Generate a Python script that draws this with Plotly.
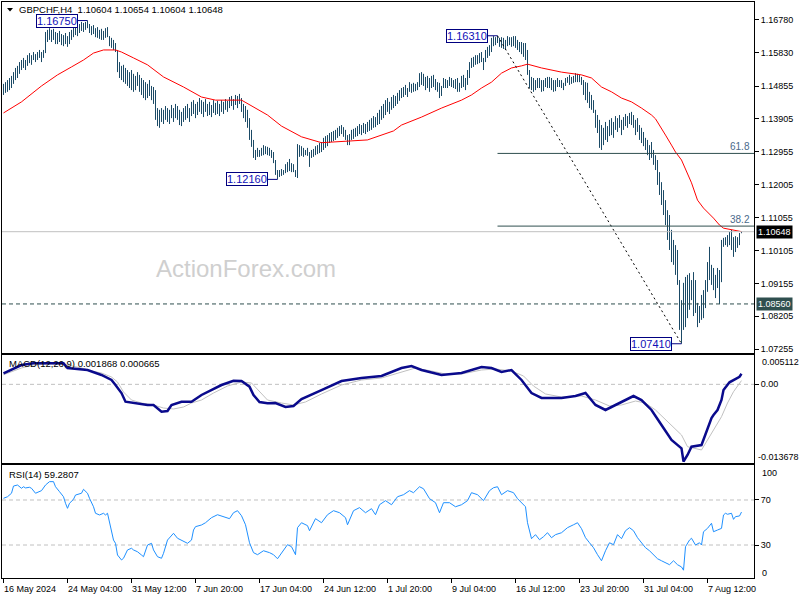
import plotly.graph_objects as go

# ---------------- data ----------------
date_labels = ["16 May 2024", "24 May 04:00", "31 May 12:00", "7 Jun 20:00", "17 Jun 04:00",
               "24 Jun 12:00", "1 Jul 20:00", "9 Jul 04:00", "16 Jul 12:00", "23 Jul 20:00",
               "31 Jul 04:00", "7 Aug 12:00"]
date_idx = [0, 32, 64, 96, 128, 160, 192, 224, 256, 288, 320, 352]

highs = [
    1.1492, 1.1497, 1.1503, 1.1509, 1.1515, 1.1526, 1.1538, 1.1544, 1.1555, 1.1561,
    1.1567, 1.1561, 1.1575, 1.1581, 1.1575, 1.1584, 1.1578, 1.1584, 1.1590, 1.1584,
    1.1590, 1.1642, 1.1648, 1.1653, 1.1648, 1.1651, 1.1642, 1.1639, 1.1645, 1.1636,
    1.1633, 1.1639, 1.1630, 1.1642, 1.1648, 1.1656, 1.1662, 1.1656, 1.1665, 1.1671,
    1.1668, 1.1671, 1.1675, 1.1665, 1.1659, 1.1662, 1.1653, 1.1656, 1.1648, 1.1651,
    1.1645, 1.1653, 1.1656, 1.1630, 1.1625, 1.1619, 1.1610, 1.1590, 1.1555, 1.1544,
    1.1547, 1.1538, 1.1532, 1.1526, 1.1532, 1.1521, 1.1515, 1.1526, 1.1518, 1.1509,
    1.1503, 1.1497, 1.1492, 1.1503, 1.1486, 1.1483, 1.1474, 1.1422, 1.1417, 1.1422,
    1.1417, 1.1428, 1.1422, 1.1417, 1.1431, 1.1422, 1.1434, 1.1428, 1.1417, 1.1411,
    1.1422, 1.1428, 1.1434, 1.1422, 1.1440, 1.1445, 1.1434, 1.1440, 1.1451, 1.1445,
    1.1440, 1.1448, 1.1434, 1.1440, 1.1431, 1.1445, 1.1437, 1.1443, 1.1434, 1.1445,
    1.1440, 1.1448, 1.1443, 1.1454, 1.1457, 1.1448, 1.1460, 1.1457, 1.1463, 1.1451,
    1.1434, 1.1428, 1.1417, 1.1393, 1.1359, 1.1330, 1.1301, 1.1307, 1.1301, 1.1307,
    1.1315, 1.1312, 1.1310, 1.1307, 1.1301, 1.1295, 1.1272, 1.1243, 1.1243, 1.1246,
    1.1243, 1.1260, 1.1266, 1.1275, 1.1263, 1.1260, 1.1243, 1.1318, 1.1315, 1.1312,
    1.1307, 1.1301, 1.1307, 1.1295, 1.1301, 1.1304, 1.1312, 1.1315, 1.1321, 1.1324,
    1.1336, 1.1341, 1.1344, 1.1350, 1.1353, 1.1356, 1.1359, 1.1365, 1.1370, 1.1373,
    1.1367, 1.1359, 1.1344, 1.1347, 1.1359, 1.1362, 1.1365, 1.1370, 1.1376, 1.1373,
    1.1379, 1.1376, 1.1382, 1.1388, 1.1393, 1.1399, 1.1396, 1.1408, 1.1417, 1.1428,
    1.1434, 1.1445, 1.1451, 1.1440, 1.1454, 1.1460, 1.1457, 1.1466, 1.1474, 1.1480,
    1.1483, 1.1489, 1.1480, 1.1497, 1.1492, 1.1495, 1.1492, 1.1497, 1.1523, 1.1526,
    1.1521, 1.1512, 1.1515, 1.1509, 1.1515, 1.1518, 1.1506, 1.1497, 1.1495, 1.1486,
    1.1509, 1.1506, 1.1503, 1.1512, 1.1509, 1.1503, 1.1506, 1.1509, 1.1495, 1.1515,
    1.1518, 1.1509, 1.1532, 1.1555, 1.1567, 1.1570, 1.1575, 1.1575, 1.1581, 1.1584,
    1.1567, 1.1590, 1.1599, 1.1604, 1.1625, 1.1630, 1.1627, 1.1631, 1.1625, 1.1627,
    1.1625, 1.1619, 1.1630, 1.1627, 1.1627, 1.1630, 1.1630, 1.1619, 1.1613, 1.1613,
    1.1610, 1.1610, 1.1590, 1.1532, 1.1512, 1.1509, 1.1503, 1.1509, 1.1509, 1.1503,
    1.1503, 1.1509, 1.1512, 1.1512, 1.1509, 1.1503, 1.1503, 1.1509, 1.1503, 1.1503,
    1.1495, 1.1509, 1.1512, 1.1518, 1.1512, 1.1515, 1.1523, 1.1521, 1.1518, 1.1512,
    1.1503, 1.1497, 1.1495, 1.1469, 1.1460, 1.1445, 1.1417, 1.1402, 1.1388, 1.1373,
    1.1365, 1.1382, 1.1370, 1.1388, 1.1393, 1.1382, 1.1399, 1.1393, 1.1402, 1.1388,
    1.1396, 1.1405, 1.1399, 1.1408, 1.1411, 1.1402, 1.1388, 1.1393, 1.1373, 1.1365,
    1.1353, 1.1336, 1.1330, 1.1315, 1.1324, 1.1301, 1.1286, 1.1272, 1.1237, 1.1208,
    1.1185, 1.1156, 1.1127, 1.1113, 1.1070, 1.1041, 1.1026, 1.1012, 1.0925, 1.0867,
    1.0917, 1.0934, 1.0940, 1.0945, 1.0925, 1.0948, 1.0925, 1.0859, 1.0850, 1.0882,
    1.0896, 1.0925, 1.0977, 1.1021, 1.0969, 1.0960, 1.0940, 1.0960, 1.0954, 1.1041,
    1.1047, 1.1049, 1.1055, 1.1064, 1.1070, 1.1049, 1.1052, 1.1049, 1.1061, 1.10654,
]

lows = [
    1.1460, 1.1466, 1.1469, 1.1474, 1.1480, 1.1492, 1.1503, 1.1509, 1.1521, 1.1532,
    1.1538, 1.1532, 1.1544, 1.1552, 1.1547, 1.1561, 1.1555, 1.1561, 1.1567, 1.1555,
    1.1567, 1.1581, 1.1613, 1.1619, 1.1613, 1.1619, 1.1607, 1.1607, 1.1613, 1.1604,
    1.1601, 1.1607, 1.1599, 1.1607, 1.1619, 1.1627, 1.1633, 1.1630, 1.1639, 1.1645,
    1.1642, 1.1648, 1.1653, 1.1639, 1.1633, 1.1636, 1.1627, 1.1625, 1.1622, 1.1619,
    1.1619, 1.1625, 1.1627, 1.1601, 1.1596, 1.1590, 1.1584, 1.1526, 1.1509, 1.1503,
    1.1497, 1.1492, 1.1486, 1.1480, 1.1474, 1.1469, 1.1474, 1.1486, 1.1469, 1.1460,
    1.1451, 1.1445, 1.1451, 1.1457, 1.1445, 1.1434, 1.1388, 1.1370, 1.1365, 1.1382,
    1.1376, 1.1388, 1.1382, 1.1376, 1.1393, 1.1382, 1.1393, 1.1388, 1.1373, 1.1370,
    1.1382, 1.1388, 1.1393, 1.1382, 1.1399, 1.1405, 1.1393, 1.1402, 1.1411, 1.1405,
    1.1396, 1.1411, 1.1399, 1.1402, 1.1396, 1.1408, 1.1402, 1.1405, 1.1399, 1.1411,
    1.1405, 1.1417, 1.1411, 1.1422, 1.1428, 1.1417, 1.1431, 1.1422, 1.1434, 1.1411,
    1.1393, 1.1382, 1.1365, 1.1330, 1.1310, 1.1278, 1.1272, 1.1281, 1.1281, 1.1284,
    1.1286, 1.1289, 1.1286, 1.1284, 1.1278, 1.1263, 1.1229, 1.1216, 1.1223, 1.1226,
    1.1229, 1.1234, 1.1237, 1.1240, 1.1237, 1.1237, 1.1223, 1.1220, 1.1281, 1.1284,
    1.1281, 1.1286, 1.1284, 1.1252, 1.1278, 1.1281, 1.1286, 1.1289, 1.1292, 1.1295,
    1.1301, 1.1307, 1.1312, 1.1321, 1.1324, 1.1327, 1.1330, 1.1336, 1.1341, 1.1347,
    1.1339, 1.1330, 1.1315, 1.1315, 1.1330, 1.1333, 1.1339, 1.1341, 1.1347, 1.1344,
    1.1350, 1.1347, 1.1353, 1.1356, 1.1359, 1.1365, 1.1367, 1.1373, 1.1376, 1.1388,
    1.1393, 1.1402, 1.1411, 1.1405, 1.1417, 1.1422, 1.1428, 1.1434, 1.1443, 1.1451,
    1.1454, 1.1460, 1.1454, 1.1469, 1.1466, 1.1469, 1.1471, 1.1474, 1.1483, 1.1489,
    1.1486, 1.1474, 1.1480, 1.1469, 1.1480, 1.1483, 1.1474, 1.1469, 1.1451, 1.1457,
    1.1480, 1.1480, 1.1480, 1.1486, 1.1483, 1.1480, 1.1477, 1.1469, 1.1469, 1.1480,
    1.1483, 1.1474, 1.1489, 1.1509, 1.1538, 1.1541, 1.1547, 1.1549, 1.1552, 1.1555,
    1.1532, 1.1555, 1.1567, 1.1573, 1.1584, 1.1601, 1.1604, 1.1610, 1.1599, 1.1596,
    1.1593, 1.1590, 1.1601, 1.1604, 1.1599, 1.1601, 1.1596, 1.1590, 1.1584, 1.1578,
    1.1570, 1.1561, 1.1518, 1.1480, 1.1474, 1.1469, 1.1474, 1.1480, 1.1480, 1.1469,
    1.1471, 1.1483, 1.1480, 1.1480, 1.1474, 1.1469, 1.1471, 1.1483, 1.1483, 1.1480,
    1.1474, 1.1486, 1.1495, 1.1489, 1.1492, 1.1495, 1.1497, 1.1497, 1.1497, 1.1489,
    1.1460, 1.1445, 1.1437, 1.1422, 1.1417, 1.1408, 1.1365, 1.1350, 1.1307, 1.1301,
    1.1315, 1.1330, 1.1324, 1.1341, 1.1344, 1.1336, 1.1359, 1.1353, 1.1365, 1.1344,
    1.1359, 1.1370, 1.1365, 1.1376, 1.1373, 1.1365, 1.1344, 1.1353, 1.1330, 1.1321,
    1.1312, 1.1301, 1.1286, 1.1272, 1.1278, 1.1258, 1.1243, 1.1200, 1.1171, 1.1142,
    1.1113, 1.1084, 1.1041, 1.1012, 1.0977, 1.0969, 1.0940, 1.0911, 1.0781, 1.0741,
    1.0781, 1.0789, 1.0815, 1.0839, 1.0867, 1.0821, 1.0830, 1.0789, 1.0801, 1.0810,
    1.0815, 1.0844, 1.0891, 1.0925, 1.0911, 1.0896, 1.0873, 1.0902, 1.0856, 1.0919,
    1.1021, 1.1026, 1.1021, 1.1026, 1.1012, 1.0992, 1.1006, 1.1018, 1.1026, 1.10604,
]

ma_idx = [0, 9, 19, 27, 34, 40, 45, 50, 56, 59, 65, 72, 80, 90, 99, 106, 119, 125, 132, 139,
          149, 159, 174, 182, 195, 199, 209, 219, 229, 234, 239, 244, 249, 254, 259, 262, 269,
          279, 289, 294, 299, 304, 309, 314, 319, 324, 326, 329, 331, 334, 336, 339, 341, 344,
          347, 350, 355, 358, 360, 364, 369]
ma_val = [1.1408, 1.1440, 1.1486, 1.1518, 1.1541, 1.1561, 1.1581, 1.1590, 1.1590, 1.1584,
          1.1567, 1.1547, 1.1512, 1.1483, 1.1454, 1.1445, 1.1445, 1.1425, 1.1402, 1.1370,
          1.1339, 1.1322, 1.1327, 1.1330, 1.1356, 1.1373, 1.1396, 1.1422, 1.1445, 1.1460,
          1.1480, 1.1497, 1.1523, 1.1538, 1.1544, 1.1549, 1.1538, 1.1526, 1.1518, 1.1509,
          1.1483, 1.1469, 1.1451, 1.1440, 1.1422, 1.1402, 1.1391, 1.1365, 1.1344, 1.1315,
          1.1295, 1.1272, 1.1246, 1.1206, 1.1156, 1.1133, 1.1104, 1.1084, 1.1075, 1.1070,
          1.1065]

macd_idx = [0, 5, 9, 15, 20, 30, 32, 42, 49, 54, 56, 59, 61, 72, 75, 77, 79, 82, 84, 89,
            94, 99, 104, 109, 115, 119, 123, 125, 128, 132, 136, 141, 145, 149, 159, 169, 179, 189, 199, 204,
            209, 219, 229, 239, 244, 249, 254, 259, 264, 269, 279, 286, 291, 296, 301, 306, 311, 315, 319, 324,
            329, 334, 339, 340, 342, 344, 349, 350, 352, 354, 355, 357, 359, 360, 363, 365, 368, 369]
macd_val = [0.00196, 0.00284, 0.00343, 0.00373, 0.00373, 0.00373, 0.00290, 0.00254, 0.00166, 0.00077,
            -0.00012, -0.00154, -0.00308, -0.00366, -0.00366, -0.00420, -0.00485, -0.00473, -0.00366, -0.00308,
            -0.00308, -0.00189, -0.00101, -0.00012, 0.00064, 0.00059, -0.00042, -0.00189, -0.00313, -0.00336,
            -0.00331, -0.00402, -0.00384, -0.00260, -0.00101, 0.00059, 0.00112, 0.00148, 0.00290, 0.00325,
            0.00254, 0.00166, 0.00201, 0.00307, 0.00290, 0.00219, 0.00254, 0.00077, -0.00154, -0.00242,
            -0.00242, -0.00207, -0.00154, -0.00366, -0.00455, -0.00366, -0.00278, -0.00207, -0.00278, -0.00455,
            -0.00721, -0.00987, -0.01134, -0.01368, -0.01253, -0.01106, -0.01076, -0.00987, -0.00810, -0.00597,
            -0.00544, -0.00455, -0.00278, -0.00101, 0.00036, 0.00077, 0.00135, 0.001868]

sig_idx = [0, 2, 9, 15, 24, 32, 39, 44, 49, 54, 57, 60, 64, 69, 75, 80, 85, 90, 94, 99,
           105, 112, 119, 124, 128, 132, 139, 145, 151, 159, 169, 179, 189, 199, 206, 214, 221, 229, 239, 246,
           254, 260, 265, 271, 279, 289, 296, 303, 309, 316, 321, 326, 331, 336, 339, 342, 345, 349, 352, 355,
           359, 362, 365, 369]
sig_val = [0.00170, 0.00196, 0.00290, 0.00343, 0.00361, 0.00343, 0.00290, 0.00236, 0.00201, 0.00130,
           0.00041, -0.00136, -0.00278, -0.00331, -0.00366, -0.00420, -0.00437, -0.00402, -0.00331, -0.00278,
           -0.00154, -0.00030, 0.00041, 0.00024, -0.00136, -0.00278, -0.00331, -0.00366, -0.00313, -0.00171,
           -0.00012, 0.00077, 0.00112, 0.00219, 0.00290, 0.00236, 0.00183, 0.00183, 0.00254, 0.00272,
           0.00236, 0.00148, -0.00030, -0.00171, -0.00225, -0.00207, -0.00278, -0.00384, -0.00366, -0.00296,
           -0.00331, -0.00455, -0.00632, -0.00810, -0.00898, -0.01106, -0.01129, -0.01164, -0.00987, -0.00810,
           -0.00574, -0.00331, -0.00131, 0.000665]

rsi_idx = [0, 2, 4, 5, 7, 9, 10, 11, 13, 14, 16, 18, 19, 21, 23, 25, 26, 28, 30, 31,
           32, 33, 35, 36, 39, 40, 42, 43, 45, 46, 48, 50, 51, 52, 53, 55, 56, 57, 59, 60,
           62, 64, 65, 67, 69, 70, 72, 74, 75, 77, 79, 80, 82, 84, 85, 87, 89, 90, 92, 94,
           95, 96, 99, 101, 104, 107, 110, 113, 115, 117, 119, 121, 123, 125, 127, 130, 133, 135, 137, 139,
           142, 144, 146, 147, 149, 152, 153, 156, 159, 162, 165, 168, 171, 172, 175, 178, 181, 184, 186, 188,
           191, 194, 197, 200, 203, 205, 208, 210, 213, 216, 218, 220, 223, 226, 229, 232, 234, 237, 240, 243,
           245, 247, 249, 252, 255, 257, 259, 261, 262, 264, 266, 268, 270, 272, 274, 276, 279, 282, 285, 287,
           289, 291, 293, 295, 297, 299, 301, 303, 305, 307, 309, 311, 313, 315, 317, 319, 321, 323, 325, 327,
           329, 331, 333, 335, 337, 339, 340, 341, 343, 344, 346, 348, 349, 350, 352, 354, 355, 357, 359, 360,
           361, 362, 364, 365, 366, 368, 369]
rsi_val = [71.5, 72.9, 76.0, 82.4, 83.3, 80.4, 81.8, 80.7, 81.3, 80.4, 76.0, 77.4, 78.3, 83.3, 86.3, 86.3, 81.8, 77.4, 72.9, 67.1,
           62.6, 67.1, 70.6, 74.4, 76.0, 79.5, 76.0, 71.5, 64.0, 58.2, 56.7, 58.2, 56.7, 58.2, 49.3, 34.4, 31.5, 21.1, 16.7, 18.2,
           25.6, 27.1, 25.6, 24.0, 21.1, 19.6, 30.0, 31.5, 25.6, 19.6, 18.2, 22.6, 34.4, 38.9, 40.4, 36.0, 34.4, 32.9, 31.5, 34.4,
           43.3, 46.3, 47.8, 49.8, 54.3, 56.9, 55.2, 53.4, 58.7, 60.5, 56.0, 48.0, 32.0, 23.2, 21.4, 24.9, 23.2, 21.4, 17.8, 23.2,
           30.3, 28.5, 21.4, 45.4, 49.8, 47.2, 42.7, 53.4, 49.8, 56.9, 60.5, 58.7, 54.3, 48.0, 60.5, 63.2, 58.7, 62.3, 56.9, 65.8,
           69.4, 65.8, 72.9, 74.7, 78.3, 76.5, 81.8, 80.0, 71.2, 67.6, 58.7, 67.6, 67.6, 64.0, 65.8, 69.4, 76.5, 74.7, 69.4, 78.3,
           80.9, 81.8, 74.7, 78.3, 76.5, 71.2, 67.6, 64.0, 49.8, 35.6, 39.2, 34.7, 37.4, 40.9, 36.5, 39.2, 40.9, 45.4, 48.0, 49.8,
           44.5, 36.5, 32.0, 27.6, 21.4, 16.0, 24.9, 32.0, 30.3, 39.2, 35.6, 42.7, 45.4, 42.7, 36.5, 32.0, 27.6, 24.9, 21.4, 17.8,
           16.0, 14.3, 12.5, 16.0, 12.5, 10.5, 7.6, 28.5, 34.4, 36.0, 30.0, 32.0, 30.0, 41.8, 44.8, 49.3, 41.8, 43.3, 44.8, 56.7,
           58.2, 57.3, 58.2, 52.8, 55.2, 55.8, 59.28]

price_ticks = [1.16780, 1.15830, 1.14855, 1.13905, 1.12955, 1.12005, 1.11055, 1.10105, 1.09155, 1.08205, 1.07255]
last_price = 1.10648
hline_price = 1.08560
swing_high_i, swing_low_i = 247, 339
peak_i, trough_i = 42, 137

# ---------------- style ----------------
FONT = "Liberation Sans, Arial, sans-serif"
BAR = "#1b4a66"
W, H = 800, 600
L, R, T, B = 2, 46, 2, 22
PW, PH = W - L - R, H - T - B


def px_x(px):
    return (px - L) / PW


def px_y(py):
    return (H - B - py) / PH


X_RANGE = [-0.75, 375.25]
main_dom = [px_y(352.5), 1.0]
macd_dom = [px_y(462.5), px_y(354.5)]
rsi_dom = [0.0, px_y(465.0)]

fig = go.Figure()

# price bars
bx, by = [], []
for i, (h, l) in enumerate(zip(highs, lows)):
    bx += [i, i, None]
    by += [l, h, None]
fig.add_trace(go.Scatter(x=bx, y=by, mode="lines", line=dict(color=BAR, width=1),
                         xaxis="x", yaxis="y", hoverinfo="skip"))
# moving average
fig.add_trace(go.Scatter(x=ma_idx, y=ma_val, mode="lines", line=dict(color="#ff0000", width=1),
                         xaxis="x", yaxis="y", hoverinfo="skip"))
# trend line between swing high and low
fig.add_trace(go.Scatter(x=[swing_high_i, swing_low_i], y=[highs[swing_high_i], lows[swing_low_i]],
                         mode="lines", line=dict(color="black", width=1, dash="2px,3px"),
                         xaxis="x", yaxis="y", hoverinfo="skip"))
# MACD
fig.add_trace(go.Scatter(x=sig_idx, y=sig_val, mode="lines", line=dict(color="#c0c0c0", width=1),
                         xaxis="x2", yaxis="y2", hoverinfo="skip"))
fig.add_trace(go.Scatter(x=macd_idx, y=macd_val, mode="lines", line=dict(color="#0a0a8c", width=2.5),
                         xaxis="x2", yaxis="y2", hoverinfo="skip"))
# RSI
fig.add_trace(go.Scatter(x=rsi_idx, y=rsi_val, mode="lines", line=dict(color="#1e90ff", width=1),
                         xaxis="x3", yaxis="y3", hoverinfo="skip"))

axis_common = dict(showgrid=False, zeroline=False, showline=True, mirror=True,
                   linecolor="black", linewidth=1)
tickfont = dict(family=FONT, size=9, color="black")

fig.update_layout(
    width=W, height=H, margin=dict(l=L, r=R, t=T, b=B),
    paper_bgcolor="white", plot_bgcolor="white", showlegend=False,
    xaxis=dict(**axis_common, range=X_RANGE, domain=[0, 1], anchor="y", showticklabels=False, ticks=""),
    xaxis2=dict(**axis_common, range=X_RANGE, domain=[0, 1], anchor="y2", showticklabels=False, ticks=""),
    xaxis3=dict(**axis_common, range=X_RANGE, domain=[0, 1], anchor="y3", showticklabels=False,
                ticks="outside", ticklen=4, tickcolor="black", tickvals=date_idx),
    yaxis=dict(**axis_common, domain=main_dom, anchor="x", side="right",
               range=[1.07157, 1.17286], tickvals=price_ticks,
               ticktext=[f"{v:.5f}" for v in price_ticks], ticks="outside", ticklen=4,
               tickcolor="black", tickfont=tickfont),
    yaxis2=dict(**axis_common, domain=macd_dom, anchor="x2", side="right",
                range=[-0.013859, 0.005289], tickvals=[0], ticktext=["0.00"], ticks="outside",
                ticklen=4, tickcolor="black", tickfont=tickfont),
    yaxis3=dict(**axis_common, domain=rsi_dom, anchor="x3", side="right",
                range=[0.67, 101.1], tickvals=[70, 30], ticktext=["70", "30"], ticks="outside",
                ticklen=4, tickcolor="black", tickfont=tickfont),
)

# level lines
hi, lo = highs[swing_high_i], lows[swing_low_i]
fib382 = lo + 0.382 * (hi - lo)
fib618 = lo + 0.618 * (hi - lo)
shapes = [
    dict(type="line", xref="x", yref="y", x0=X_RANGE[0], x1=X_RANGE[1], y0=last_price, y1=last_price,
         line=dict(color="#c0c0c0", width=1)),
    dict(type="line", xref="x", yref="y", x0=X_RANGE[0], x1=X_RANGE[1], y0=hline_price, y1=hline_price,
         line=dict(color="#2f4f4f", width=1, dash="4px,3px")),
    dict(type="line", xref="x", yref="y", x0=swing_high_i, x1=X_RANGE[1], y0=fib382, y1=fib382,
         line=dict(color="#2f4f4f", width=1)),
    dict(type="line", xref="x", yref="y", x0=swing_high_i, x1=X_RANGE[1], y0=fib618, y1=fib618,
         line=dict(color="#2f4f4f", width=1)),
    dict(type="line", xref="x2", yref="y2", x0=X_RANGE[0], x1=X_RANGE[1], y0=0, y1=0,
         line=dict(color="#c0c0c0", width=1, dash="4px,3px"), layer="below"),
    dict(type="line", xref="x3", yref="y3", x0=X_RANGE[0], x1=X_RANGE[1], y0=70, y1=70,
         line=dict(color="#c0c0c0", width=1, dash="4px,3px"), layer="below"),
    dict(type="line", xref="x3", yref="y3", x0=X_RANGE[0], x1=X_RANGE[1], y0=30, y1=30,
         line=dict(color="#c0c0c0", width=1, dash="4px,3px"), layer="below"),
    # small menu triangle
    dict(type="path", xref="paper", yref="paper",
         path=f"M {px_x(7)},{px_y(8)} L {px_x(13)},{px_y(8)} L {px_x(10)},{px_y(11.5)} Z",
         fillcolor="black", line=dict(color="black", width=0)),
]

annotations = []


def tag(idx, price):
    annotations.append(dict(x=idx, y=price, xref="x", yref="y", text=f"{price:.5f}", showarrow=False,
                            xanchor="right", yanchor="middle", xshift=-10,
                            font=dict(family=FONT, size=11, color="#1010b8"),
                            bgcolor="white", bordercolor="#000080", borderwidth=1, borderpad=0))
    shapes.append(dict(type="line", xref="x", yref="y", xsizemode="pixel", xanchor=idx, x0=-10, x1=0,
                       y0=price, y1=price, line=dict(color="#000080", width=1)))


tag(peak_i, highs[peak_i])
tag(swing_high_i, highs[swing_high_i])
tag(trough_i, lows[trough_i])
tag(swing_low_i, lows[swing_low_i])

# fib labels
for lvl, txt in [(fib382, "38.2"), (fib618, "61.8")]:
    annotations.append(dict(x=1, y=lvl, xref="paper", yref="y", text=txt, showarrow=False,
                            xanchor="right", yanchor="bottom", xshift=-2, yshift=-1,
                            font=dict(family=FONT, size=10, color="#4a6a8a")))

# right-side price boxes
annotations.append(dict(x=1, y=last_price, xref="paper", yref="y", text=f"{last_price:.5f}", showarrow=False,
                        xanchor="left", yanchor="middle", xshift=2, bgcolor="black", borderpad=1,
                        font=dict(family=FONT, size=9, color="white")))
annotations.append(dict(x=1, y=hline_price, xref="paper", yref="y", text=f"{hline_price:.5f}", showarrow=False,
                        xanchor="left", yanchor="middle", xshift=2, bgcolor="#2f4f4f", borderpad=1,
                        font=dict(family=FONT, size=9, color="white")))

# indicator scale extremes
annotations.append(dict(x=1, y=px_y(361.7), xref="paper", yref="paper", text="0.005112", showarrow=False,
                        xanchor="left", yanchor="middle", xshift=6, font=tickfont))
annotations.append(dict(x=1, y=px_y(456.7), xref="paper", yref="paper", text="-0.013678", showarrow=False,
                        xanchor="left", yanchor="middle", xshift=2, font=tickfont))
annotations.append(dict(x=1, y=px_y(472.7), xref="paper", yref="paper", text="100", showarrow=False,
                        xanchor="left", yanchor="middle", xshift=6, font=tickfont))
annotations.append(dict(x=1, y=px_y(572.7), xref="paper", yref="paper", text="0", showarrow=False,
                        xanchor="left", yanchor="middle", xshift=6, font=tickfont))

# date labels
for idx, lab in zip(date_idx, date_labels):
    annotations.append(dict(x=idx, y=px_y(588.5), xref="x3", yref="paper", text=lab, showarrow=False,
                            xanchor="left", yanchor="middle", xshift=-2, font=tickfont))

# titles
annotations.append(dict(x=px_x(17), y=px_y(10), xref="paper", yref="paper",
                        text="GBPCHF,H4  1.10604 1.10654 1.10604 1.10648", showarrow=False,
                        xanchor="left", yanchor="middle", font=dict(family=FONT, size=9.5, color="black")))
annotations.append(dict(x=px_x(7), y=px_y(363), xref="paper", yref="paper",
                        text="MACD(12,26,9) 0.001868 0.000665", showarrow=False,
                        xanchor="left", yanchor="middle", font=dict(family=FONT, size=9.5, color="black")))
annotations.append(dict(x=px_x(7), y=px_y(474), xref="paper", yref="paper",
                        text="RSI(14) 59.2807", showarrow=False,
                        xanchor="left", yanchor="middle", font=dict(family=FONT, size=9.5, color="black")))
# watermark
annotations.append(dict(x=px_x(246), y=px_y(268), xref="paper", yref="paper", text="ActionForex.com",
                        showarrow=False, xanchor="center", yanchor="middle",
                        font=dict(family=FONT, size=24, color="#cfcfcf")))

fig.update_layout(shapes=shapes, annotations=annotations)
fig.write_html("out.html", config={"displayModeBar": False},
               post_script="document.body.style.margin='0px';document.body.style.overflow='hidden';")
